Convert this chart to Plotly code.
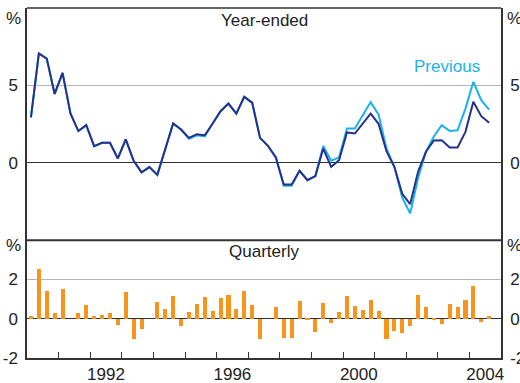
import plotly.graph_objects as go

# ---- data (quarterly, 1990 Q1 .. 2004 Q3) ----
years = list(range(1990, 2005))
quarters = [(y, q) for y in years for q in (1, 2, 3, 4)][:59]

year_ended = [2.93, 7.06, 6.73, 4.45, 5.81, 3.19, 2.05, 2.43, 1.08, 1.29,
              1.29, 0.28, 1.51, 0.13, -0.62, -0.28, -0.78, 0.92, 2.54, 2.15,
              1.61, 1.85, 1.78, 2.54, 3.33, 3.83, 3.18, 4.26, 3.89, 1.61,
              1.10, 0.34, -1.40, -1.40, -0.52, -1.12, -0.86, 0.92, -0.26, 0.17,
              1.96, 1.89, 2.54, 3.18, 2.52, 0.75, -0.26, -2.00, -2.67, -0.58,
              0.71, 1.44, 1.46, 0.99, 0.99, 2.00, 3.94, 3.01, 2.58]

previous = [2.93, 7.06, 6.73, 4.45, 5.81, 3.19, 2.05, 2.43, 1.08, 1.29,
            1.29, 0.28, 1.51, 0.13, -0.62, -0.28, -0.78, 0.92, 2.54, 2.15,
            1.55, 1.78, 1.70, 2.54, 3.33, 3.83, 3.18, 4.26, 3.89, 1.61,
            1.10, 0.34, -1.48, -1.48, -0.52, -1.12, -0.86, 1.08, 0.13, 0.34,
            2.22, 2.22, 3.08, 3.92, 3.12, 0.93, -0.26, -2.25, -3.27, -1.00,
            0.71, 1.70, 2.43, 2.06, 2.10, 3.50, 5.23, 4.04, 3.44]

quarterly = [0.12, 2.53, 1.40, 0.27, 1.50, 0.00, 0.27, 0.68, 0.12, 0.17,
             0.27, -0.34, 1.35, -1.06, -0.55, 0.00, 0.84, 0.48, 1.15, -0.39,
             0.32, 0.74, 1.09, 0.38, 1.04, 1.20, 0.48, 1.40, 0.68, -1.06,
             0.00, 0.58, -0.99, -0.99, 0.89, -0.08, -0.68, 0.79, -0.22, 0.32,
             1.15, 0.63, 0.43, 0.94, 0.38, -1.06, -0.63, -0.74, -0.38, 1.20,
             0.58, -0.07, -0.27, 0.74, 0.58, 0.94, 1.66, -0.17, 0.12]

x_labels = ["1992", "1996", "2000", "2004"]
top_ticks = [0, 5]
top_ticktext = ["0", "5"]
bottom_ticks = [-2, 0, 2]
bottom_ticktext = ["-2", "0", "2"]

# decimal-year position of each quarter (mid-quarter)
xq = [y + (q - 0.5) / 4 for (y, q) in quarters]

DARK = "#27318c"
LIGHT = "#1cb1ec"
ORANGE = "#f7941d"
FRAME = "#333333"
GRID = "#b5b5b5"
FONT = "Liberation Sans, Arial, sans-serif"
FS = 17

fig = go.Figure()
fig.add_trace(go.Scatter(x=xq, y=previous, mode="lines", line=dict(color=LIGHT, width=2),
                         yaxis="y", hoverinfo="skip", showlegend=False))
fig.add_trace(go.Scatter(x=xq, y=year_ended, mode="lines", line=dict(color=DARK, width=2),
                         yaxis="y", hoverinfo="skip", showlegend=False))
fig.add_trace(go.Bar(x=xq, y=quarterly, width=0.13, marker=dict(color=ORANGE, line=dict(width=0)),
                     yaxis="y2", hoverinfo="skip", showlegend=False))
# invisible traces to activate right-hand axes
fig.add_trace(go.Scatter(x=[None], y=[None], yaxis="y3", showlegend=False, hoverinfo="skip"))
fig.add_trace(go.Scatter(x=[None], y=[None], yaxis="y4", showlegend=False, hoverinfo="skip"))

split = 0.3366
tickfont = dict(family=FONT, size=FS, color="#222222")

common_y = dict(showline=True, linecolor=FRAME, linewidth=1.5, ticks="", tickfont=tickfont,
                zeroline=True, zerolinecolor=FRAME, zerolinewidth=1.2, fixedrange=True,
                automargin=False, ticklabelstandoff=4)

fig.update_layout(
    width=520, height=383,
    margin=dict(l=27, r=19, t=8, b=25),
    paper_bgcolor="white", plot_bgcolor="white",
    bargap=0,
    font=dict(family=FONT, size=FS, color="#222222"),
    xaxis=dict(range=[1990, 2005], anchor="y2", showline=True, linecolor=FRAME, linewidth=1.5,
               showgrid=False, zeroline=False, tickmode="array", automargin=False,
               tickvals=[int(s) + 0.5 for s in x_labels], ticktext=x_labels, ticks="",
               tickfont=tickfont,
               minor=dict(tickmode="array", tickvals=years[1:], ticks="inside", ticklen=6,
                          tickcolor=FRAME, tickwidth=1, showgrid=False)),
    yaxis=dict(domain=[split, 1], range=[-5, 10], tickmode="array", tickvals=top_ticks,
               ticktext=top_ticktext,
               showgrid=True, gridcolor=GRID, gridwidth=1, anchor="x", side="left", **common_y),
    yaxis2=dict(domain=[0, split], range=[-2, 4], tickmode="array", tickvals=bottom_ticks,
                ticktext=bottom_ticktext,
                showgrid=True, gridcolor=GRID, gridwidth=1, anchor="x", side="left", **common_y),
    yaxis3=dict(overlaying="y", range=[-5, 10], tickmode="array", tickvals=top_ticks,
                ticktext=top_ticktext,
                showgrid=False, anchor="x", side="right", **common_y),
    yaxis4=dict(overlaying="y2", range=[-2, 4], tickmode="array", tickvals=bottom_ticks,
                ticktext=bottom_ticktext,
                showgrid=False, anchor="x", side="right", **common_y),
    shapes=[
        dict(type="line", xref="paper", yref="paper", x0=0, x1=1, y0=1, y1=1,
             line=dict(color=FRAME, width=1.5)),
        dict(type="line", xref="paper", yref="paper", x0=0, x1=1, y0=split, y1=split,
             line=dict(color=FRAME, width=2)),
    ],
    annotations=[
        dict(text="%", xref="paper", yref="y", x=0, y=9.3, xanchor="right", xshift=-4,
             showarrow=False, font=tickfont),
        dict(text="%", xref="paper", yref="y", x=1, y=9.3, xanchor="left", xshift=4,
             showarrow=False, font=tickfont),
        dict(text="%", xref="paper", yref="y2", x=0, y=3.75, xanchor="right", xshift=-4,
             showarrow=False, font=tickfont),
        dict(text="%", xref="paper", yref="y2", x=1, y=3.75, xanchor="left", xshift=4,
             showarrow=False, font=tickfont),
        dict(text="Year-ended", xref="x", yref="y", x=1997.5, y=9.2, showarrow=False,
             font=dict(family=FONT, size=FS, color="#222222")),
        dict(text="Quarterly", xref="x", yref="y2", x=1997.5, y=3.42, showarrow=False,
             font=dict(family=FONT, size=FS, color="#222222")),
        dict(text="Previous", xref="x", yref="y", x=2003.3, y=6.19, showarrow=False,
             font=dict(family=FONT, size=FS, color=LIGHT)),
    ],
)

fig.write_html("out.html", config={"displayModeBar": False},
               post_script="document.body.style.margin='0px';document.body.style.padding='0px';")
